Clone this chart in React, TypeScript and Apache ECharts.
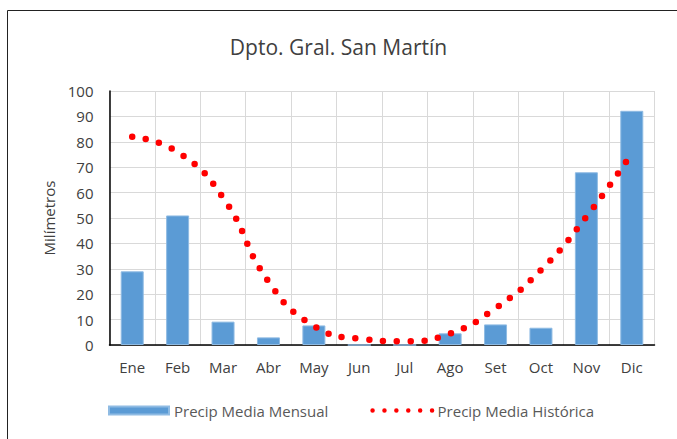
import React, { useEffect, useRef } from "react";
import * as echarts from "echarts";

const categories = ["Ene", "Feb", "Mar", "Abr", "May", "Jun", "Jul", "Ago", "Set", "Oct", "Nov", "Dic"];
const mensual = [29, 51, 9.2, 3, 7.7, 0, 0, 4.6, 8.1, 6.8, 68, 92.2];
const historica = [82, 76, 58, 25, 7.5, 2.5, 1.5, 4.5, 14.5, 29.5, 50.5, 75.5];
const yTicks = { min: 0, max: 100, interval: 10 };

const FONT = "Open Sans";

export default function App() {
  const ref = useRef<HTMLDivElement>(null);
  useEffect(() => {
    document.body.style.margin = "0";
    const chart = echarts.init(ref.current!, null, { renderer: "svg" });
    chart.setOption({
      animation: false,
      backgroundColor: "#ffffff",
      title: {
        text: "Dpto. Gral. San Martín",
        left: "center",
        top: 31,
        textStyle: { fontFamily: FONT, fontSize: 21, fontWeight: "normal", color: "#404040" },
      },
      graphic: [
        {
          type: "rect",
          shape: { x: 7.5, y: 10.5, width: 700, height: 500 },
          style: { fill: "none", stroke: "#222", lineWidth: 1 },
          silent: true,
        },
      ],
      grid: { left: 109.5, right: 22.5, top: 91, bottom: 94 },
      legend: {
        left: 108,
        top: 403,
        padding: 0,
        itemWidth: 60,
        itemHeight: 8,
        itemGap: 42,
        textStyle: { fontFamily: FONT, fontSize: 15, color: "#595959" },
        data: [
          { name: "Precip Media Mensual", icon: "rect" },
          {
            name: "Precip Media Histórica",
            itemStyle: { color: "rgba(0,0,0,0)", borderColor: "rgba(0,0,0,0)", borderWidth: 0 },
            lineStyle: { width: 4.5, type: [0, 11.9], cap: "round", color: "#ff0000" },
          },
        ],
      },
      xAxis: {
        type: "category",
        data: categories,
        boundaryGap: true,
        axisLine: { lineStyle: { color: "#000", width: 1.5 } },
        axisTick: { show: false },
        axisLabel: { fontFamily: FONT, fontSize: 15, color: "#404040", margin: 14 },
        splitLine: { show: true, lineStyle: { color: "#d9d9d9", width: 1 } },
      },
      yAxis: {
        type: "value",
        min: yTicks.min,
        max: yTicks.max,
        interval: yTicks.interval,
        name: "Milímetros",
        nameLocation: "middle",
        nameRotate: 90,
        nameGap: 50,
        nameTextStyle: { fontFamily: FONT, fontSize: 15, color: "#404040" },
        axisLine: { show: true, lineStyle: { color: "#000", width: 1.5 } },
        axisTick: { show: false },
        axisLabel: { fontFamily: FONT, fontSize: 15, color: "#404040", margin: 16 },
        splitLine: { show: true, lineStyle: { color: "#d9d9d9", width: 1 } },
      },
      series: [
        {
          name: "Precip Media Mensual",
          type: "bar",
          data: mensual,
          barWidth: 23,
          itemStyle: { color: "#5b9bd5", borderColor: "#8fbbe3", borderWidth: 1 },
        },
        {
          name: "Precip Media Histórica",
          type: "line",
          data: historica,
          smooth: 0.5,
          symbol: "none",
          z: 5,
          itemStyle: { color: "#ff0000" },
          lineStyle: { color: "#ff0000", width: 6.5, type: [0, 13.8], cap: "round" },
        },
      ],
    });
    return () => chart.dispose();
  }, []);
  return <div ref={ref} style={{ width: 677, height: 439 }} />;
}
